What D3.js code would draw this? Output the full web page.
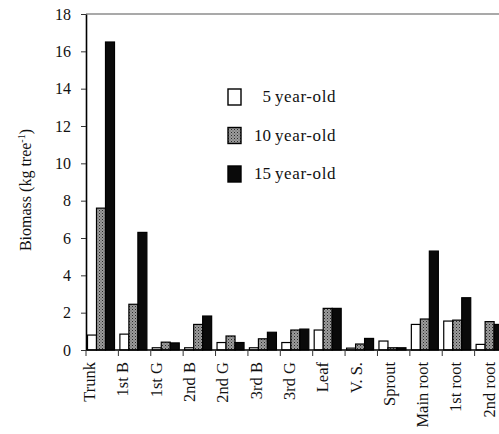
<!DOCTYPE html>
<html>
<head>
<meta charset="utf-8">
<script src="https://cdn.jsdelivr.net/npm/d3@7"></script>
<style>
  body { margin: 0; background: #fff; }
  svg text { font-family: "Liberation Serif", "Times New Roman", serif; fill: #111; }
</style>
</head>
<body>
<div id="chart"></div>
<script>
// organs along the x axis
var categories = ["Trunk", "1st B", "1st G", "2nd B", "2nd G", "3rd B", "3rd G",
                  "Leaf", "V. S.", "Sprout", "Main root", "1st root", "2nd root"];
var series = ["5 year-old", "10 year-old", "15 year-old"];

// biomass (kg tree-1)
var age5  = [0.8, 0.85, 0.12, 0.12, 0.4, 0.12, 0.4, 1.07, 0.1, 0.48, 1.37, 1.55, 0.3];
var age10 = [7.6, 2.45, 0.42, 1.37, 0.75, 0.6, 1.07, 2.23, 0.32, 0.12, 1.66, 1.6, 1.52];
var age15 = [16.5, 6.3, 0.38, 1.82, 0.4, 0.95, 1.12, 2.23, 0.62, 0.12, 5.3, 2.8, 1.37];
var yTicks = [0, 2, 4, 6, 8, 10, 12, 14, 16, 18];

var values = [age5, age10, age15];
var fills = ["#fff", "url(#stipple)", "#0a0a0a"];

var width = 499, height = 434;
var plotL = 86, plotR = 507, plotT = 14, plotB = 350;

var svg = d3.select("#chart")
    .append("svg")
    .attr("width", width)
    .attr("height", height);

// stippled grey like the scan
var pat = svg.append("defs").append("pattern")
    .attr("id", "stipple")
    .attr("width", 3).attr("height", 3)
    .attr("patternUnits", "userSpaceOnUse");
pat.append("rect").attr("width", 3).attr("height", 3).attr("fill", "#9c9c9c");
pat.append("rect").attr("width", 1).attr("height", 1).attr("fill", "#2a2a2a");
pat.append("rect").attr("x", 1.5).attr("y", 1.5).attr("width", 1).attr("height", 1).attr("fill", "#555");

var x0 = d3.scaleBand().domain(categories).range([plotL, plotR]).padding(0);
var x1 = d3.scaleBand().domain(series).range([1.5, 28.5]).padding(0);
// labels in the original drift a little from the ticks
var xl = d3.scaleBand().domain(categories).range([73.5, 73.5 + 13 * 33.3]);

var y = d3.scaleLinear().domain([0, 18]).range([plotB, plotT]);

// top frame line
svg.append("line")
    .attr("x1", plotL).attr("x2", width)
    .attr("y1", y(18)).attr("y2", y(18))
    .attr("stroke", "#555").attr("stroke-width", 1.2);

// bars
categories.forEach(function (c, i) {
  series.forEach(function (s, j) {
    svg.append("rect")
        .attr("x", x0(c) + x1(s))
        .attr("y", y(values[j][i]))
        .attr("width", x1.bandwidth())
        .attr("height", plotB - y(values[j][i]))
        .attr("fill", fills[j])
        .attr("stroke", "#000")
        .attr("stroke-width", 1.2);
  });
});

// y axis
var yAxis = svg.append("g")
    .attr("transform", "translate(" + plotL + ",0)")
    .call(d3.axisLeft(y).tickValues(yTicks).tickSize(5).tickPadding(10).tickSizeOuter(0));
yAxis.select(".domain").attr("stroke", "#000").attr("stroke-width", 1.6);
yAxis.selectAll(".tick line").attr("stroke", "#333");
yAxis.selectAll("text").style("font-size", "16px").attr("fill", "#111");

// x axis line with ticks at group boundaries
svg.append("line")
    .attr("x1", plotL).attr("x2", width)
    .attr("y1", plotB).attr("y2", plotB)
    .attr("stroke", "#000").attr("stroke-width", 1.4);
svg.selectAll(".gtick")
    .data(categories)
    .enter()
    .append("line")
    .attr("x1", function (d) { return x0(d); })
    .attr("x2", function (d) { return x0(d); })
    .attr("y1", plotB).attr("y2", plotB + 6)
    .attr("stroke", "#333");

svg.selectAll(".xlab")
    .data(categories)
    .enter()
    .append("text")
    .attr("transform", function (d) {
      return "translate(" + (xl(d) + xl.bandwidth() / 2 + 5) + "," + (plotB + 12) + ")rotate(-90)";
    })
    .style("text-anchor", "end")
    .style("font-size", "16.5px")
    .text(function (d) { return d; });

// y axis title
var yt = svg.append("text")
    .attr("transform", "translate(31,190)rotate(-90)")
    .style("text-anchor", "middle")
    .style("font-size", "16px");
yt.append("tspan").text("Biomass (kg tree");
yt.append("tspan").attr("dy", -6).style("font-size", "10px").text("-1");
yt.append("tspan").attr("dy", 6).text(")");

// legend
var leg = svg.append("g");
series.forEach(function (s, j) {
  var cy = 97 + j * 38.5;
  leg.append("rect")
      .attr("x", 228).attr("y", cy - 8)
      .attr("width", 13).attr("height", 16)
      .attr("fill", fills[j])
      .attr("stroke", "#000")
      .attr("stroke-width", 1.4);
  var parts = s.split(" ");
  leg.append("text")
      .attr("x", 271).attr("y", cy + 5)
      .style("text-anchor", "end")
      .style("font-size", "17px")
      .text(parts[0]);
  leg.append("text")
      .attr("x", 275).attr("y", cy + 5)
      .style("font-size", "17px")
      .style("letter-spacing", "0.6px")
      .text(parts.slice(1).join(" "));
});
</script>
</body>
</html>
